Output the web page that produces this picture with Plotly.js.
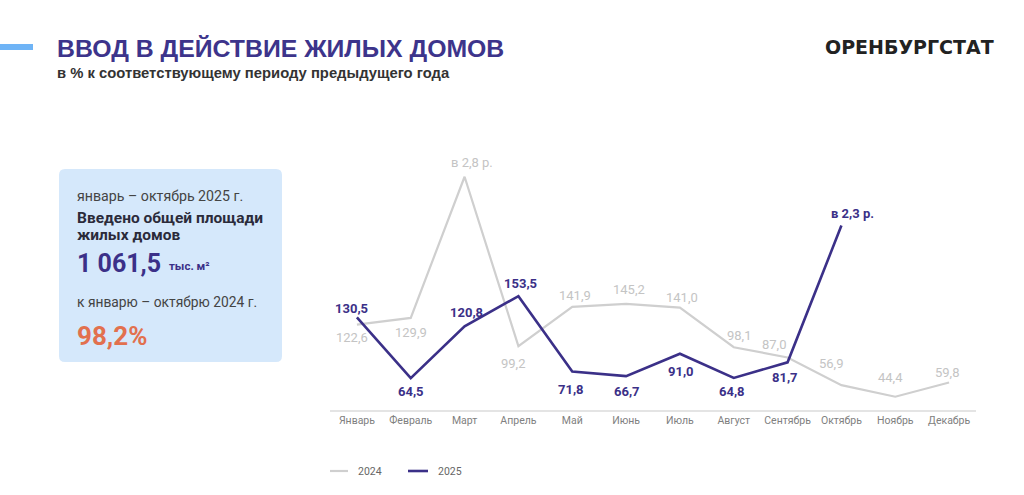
<!DOCTYPE html>
<html><head><meta charset="utf-8">
<script src="https://cdn.plot.ly/plotly-3.0.1.min.js"></script>
<style>html,body{margin:0;padding:0;background:#fff;}#chart{width:1024px;height:495px;}</style>
</head><body><div id="chart"></div>
<script>
const months = ["Январь","Февраль","Март","Апрель","Май","Июнь","Июль","Август","Сентябрь","Октябрь","Ноябрь","Декабрь"];
const values2024 = [122.6,129.9,283,99.2,141.9,145.2,141.0,98.1,87.0,56.9,44.4,59.8];
const labels2024 = ["122,6","129,9","в 2,8 р.","99,2","141,9","145,2","141,0","98,1","87,0","56,9","44,4","59,8"];
const values2025 = [130.5,64.5,120.8,153.5,71.8,66.7,91.0,64.8,81.7,230];
const labels2025 = ["130,5","64,5","120,8","153,5","71,8","66,7","91,0","64,8","81,7","в 2,3 р."];
// label offsets from their points (px): [dx, dy] with dy positive = up
const offs2024 = [[-5,-13],[0,-15],[7,14],[-5,-17],[3,11],[3,14],[2,10],[5,12],[-14,13],[-10,22],[-5,19],[-2,10]];
const offs2025 = [[-5,9],[0,-13],[2,14],[2,13],[-1,-18],[1,-15],[1,-18],[-2,-14],[-3,-15],[11,12]];

const NAVY = "#3b3088", GRAY = "#cfcfcf", GRAYTXT = "#c4c4c4";
const PX0 = 330, PW = 646, PY0 = 150, PH = 260;
const px = x => (x - PX0) / PW;
const py = y => (PY0 + PH - y) / PH;

const traces = [
  {x: months.map((m,i)=>i), y: values2024, mode: "lines",
   line: {color: GRAY, width: 2.2}, hoverinfo: "skip", name: "2024"},
  {x: values2025.map((v,i)=>i), y: values2025, mode: "lines",
   line: {color: NAVY, width: 2.6}, hoverinfo: "skip", name: "2025"}
];

function rrect(x0,y0,x1,y1,r){
  const rx = r / PW, ry = r / PH;
  const a = px(x0), b = px(x1), t = py(y0), u = py(y1);
  return `M ${a+rx} ${t} L ${b-rx} ${t} Q ${b} ${t} ${b} ${t-ry} L ${b} ${u+ry} Q ${b} ${u} ${b-rx} ${u} L ${a+rx} ${u} Q ${a} ${u} ${a} ${u+ry} L ${a} ${t-ry} Q ${a} ${t} ${a+rx} ${t} Z`;
}

const shapes = [
  {type: "path", xref: "paper", yref: "paper", path: rrect(59,169,282,362,6), fillcolor: "#d5e8fb", line: {width: 0}, layer: "below"},
  {type: "line", xref: "paper", yref: "paper", x0: px(0), x1: px(33), y0: py(47), y1: py(47), line: {color: "#6fb4f6", width: 6}},
  {type: "line", xref: "paper", yref: "paper", x0: px(330), x1: px(348), y0: py(471), y1: py(471), line: {color: GRAY, width: 2.2}},
  {type: "line", xref: "paper", yref: "paper", x0: px(408), x1: px(428), y0: py(471), y1: py(471), line: {color: NAVY, width: 2.6}}
];

function ann(text, x, y, size, color, bold, family, extra){
  return Object.assign({xref: "paper", yref: "paper", x: px(x), y: py(y), xanchor: "left", yanchor: "middle",
    showarrow: false, text: text,
    font: {family: family || "Roboto, sans-serif", size: size, color: color, weight: bold ? "bold" : "normal"}}, extra || {});
}

const annotations = [
  ann("ВВОД В ДЕЙСТВИЕ ЖИЛЫХ ДОМОВ", 55, 48, 24.8, "#3d348b", true, "Liberation Sans, Arial, sans-serif"),
  ann("в % к соответствующему периоду предыдущего года", 55, 73, 14.8, "#333333", true, "Liberation Sans, Arial, sans-serif"),
  ann("ОРЕНБУРГСТАТ", 996, 47, 19, "#222222", true, "DejaVu Sans, sans-serif", {xanchor: "right"}),
  ann("январь – октябрь 2025 г.", 75, 196, 14.2, "#444444", false),
  ann("Введено общей площади", 75, 218, 15.5, "#2b2b3a", true),
  ann("жилых домов", 75, 235, 15.5, "#2b2b3a", true),
  ann("1 061,5", 75, 263, 25, NAVY, true),
  ann("тыс. м²", 167, 266, 11.5, NAVY, true),
  ann("к январю – октябрю 2024 г.", 75, 302, 13.8, "#444444", false),
  ann("98,2%", 75, 336, 26, "#e2704e", true),
  ann("2024", 356, 471, 10.5, "#666666", false),
  ann("2025", 436, 471, 10.5, "#666666", false)
];

values2024.forEach((v,i)=>annotations.push({x: i, y: v, xref: "x", yref: "y", text: labels2024[i], showarrow: false,
  xshift: offs2024[i][0], yshift: offs2024[i][1], xanchor: "center", yanchor: "middle",
  font: {family: "Roboto, sans-serif", size: 13, color: GRAYTXT}}));
values2025.forEach((v,i)=>annotations.push({x: i, y: v, xref: "x", yref: "y", text: labels2025[i], showarrow: false,
  xshift: offs2025[i][0], yshift: offs2025[i][1], xanchor: "center", yanchor: "middle",
  font: {family: "Roboto, sans-serif", size: 13, color: NAVY, weight: "bold"}}));

const layout = {
  width: 1024, height: 495,
  margin: {l: PX0, r: 1024 - PX0 - PW, t: PY0, b: 495 - PY0 - PH, pad: 0},
  paper_bgcolor: "#ffffff", plot_bgcolor: "#ffffff",
  showlegend: false,
  xaxis: {range: [-0.5, 11.5], tickvals: months.map((m,i)=>i), ticktext: months, showgrid: false, zeroline: false,
    showline: true, linecolor: "#e4e4e4", linewidth: 1.5, ticks: "", ticklen: 0,
    tickfont: {family: "Roboto, sans-serif", size: 10.5, color: "#808080"}, fixedrange: true},
  yaxis: {range: [30, 312], visible: false, showgrid: false, zeroline: false, fixedrange: true},
  shapes: shapes, annotations: annotations
};

Plotly.newPlot("chart", traces, layout, {displayModeBar: false, staticPlot: true});
</script></body></html>
